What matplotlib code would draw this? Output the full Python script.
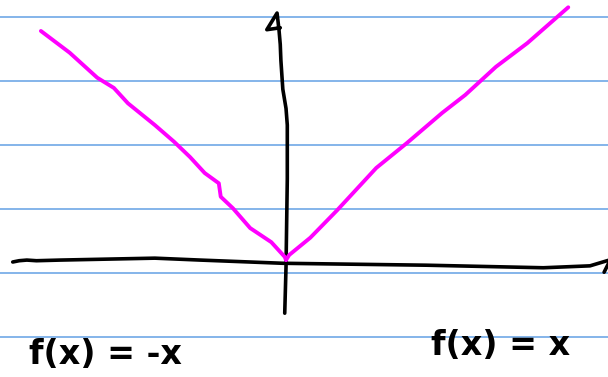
import numpy as np
import matplotlib.pyplot as plt

# hand-drawn sketch of f(x) = |x| on ruled paper (1 unit = one ruled line)
left_x = [-3.83, -3.38, -2.95, -2.69, -2.47, -2.05, -1.75, -1.50, -1.27,
          -1.05, -1.02, -0.83, -0.56, -0.23, -0.02, 0.0]
left_y = [3.61, 3.27, 2.88, 2.72, 2.48, 2.14, 1.88, 1.64, 1.39,
          1.23, 1.02, 0.84, 0.53, 0.31, 0.08, 0.03]
right_x = [0.0, 0.05, 0.38, 0.80, 1.41, 1.89, 2.44, 2.80, 3.28, 3.77, 4.41]
right_y = [0.03, 0.11, 0.38, 0.81, 1.47, 1.86, 2.33, 2.61, 3.05, 3.42, 3.98]

# axes as drawn by hand
xaxis_x = [-4.27, -4.17, -4.05, -3.90, -3.53, -2.05, -1.34, -0.05, 2.19, 4.02, 4.75, 5.05]
xaxis_y = [0.0, 0.02, 0.03, 0.02, 0.03, 0.06, 0.03, -0.02, -0.05, -0.09, -0.06, 0.03]
yaxis_x = [-0.02, 0.0, 0.02, 0.02, 0.0, -0.05, -0.08, -0.09, -0.11, -0.14, -0.30, -0.09]
yaxis_y = [-0.80, -0.08, 1.30, 2.14, 2.40, 2.70, 3.15, 3.40, 3.63, 3.89, 3.63, 3.66]
xarrow_x = [5.05, 4.97]
xarrow_y = [0.0, -0.16]

labels = ["f(x) = -x", "f(x) = x"]
label_x = [-2.82, 3.36]
label_y = [-1.45, -1.30]

fig = plt.figure(figsize=(6.08, 3.77), dpi=100)
ax = fig.add_axes([0, 0, 1, 1])
ax.set_xlim(-4.469, 5.031)
ax.set_ylim(-1.797, 4.094)
ax.axis("off")

# ruled lines of the notebook page
for y in np.arange(-1.172, 4.0, 1.0):
    ax.axhline(y, color="#6fa8e6", lw=1.2, zorder=0)

ink = dict(color="black", lw=2.6, solid_capstyle="round", solid_joinstyle="round")
ax.plot(xaxis_x, xaxis_y, **ink)
ax.plot(xarrow_x, xarrow_y, **ink)
ax.plot(yaxis_x, yaxis_y, **ink)

pen = dict(color="#ff00ff", lw=2.8, solid_capstyle="round", solid_joinstyle="round")
ax.plot(left_x, left_y, **pen)
ax.plot(right_x, right_y, **pen)

for t, x, y in zip(labels, label_x, label_y):
    ax.text(x, y, t, fontsize=24, fontweight="semibold", ha="center", va="center",
            color="black")

fig.savefig("out.png", dpi=100)
